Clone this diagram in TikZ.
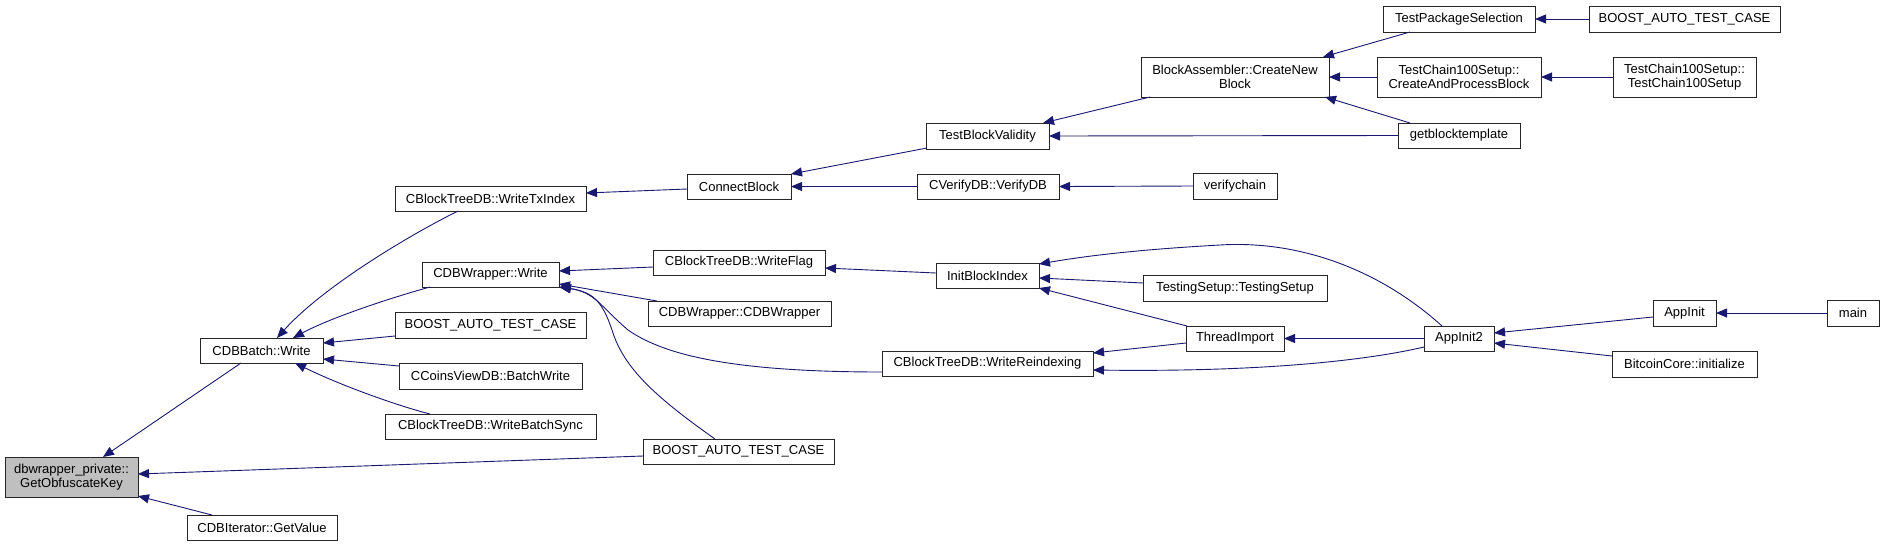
\documentclass[tikz,border=0pt]{standalone}
\usepackage{fontspec}
\setmainfont{Liberation Sans}
\usetikzlibrary{arrows.meta,calc}
\definecolor{edgeblue}{RGB}{25,25,112}
\definecolor{focusgray}{RGB}{191,191,191}
\begin{document}
\begin{tikzpicture}[x=1pt,y=-1pt,
  box/.style={draw=black!85, line width=1pt, fill=white, inner sep=0pt, outer sep=0pt,
    align=center, font=\fontsize{13}{14.5}\selectfont},
  focus/.style={box, fill=focusgray},
  e/.style={draw=edgeblue, line width=0.9pt, -{Triangle[length=11pt,width=9pt]}}]
\fill[white] (0,0) rectangle (1884,547);
\useasboundingbox (0,0) rectangle (1884,547);
% nodes
\node[focus, minimum width=133pt, minimum height=40pt] (gok) at (71.5,477) {dbwrapper\_private::\\GetObfuscateKey};
\node[box, minimum width=123pt, minimum height=25pt] (batch) at (261.5,350.5) {CDBBatch::Write};
\node[box, minimum width=150pt, minimum height=25pt] (getval) at (262,527.5) {CDBIterator::GetValue};
\node[box, minimum width=191pt, minimum height=25pt] (txidx) at (490.5,198.5) {CBlockTreeDB::WriteTxIndex};
\node[box, minimum width=137pt, minimum height=25pt] (dbw) at (490.5,274.5) {CDBWrapper::Write};
\node[box, minimum width=191pt, minimum height=26pt] (bat1) at (490.5,325) {BOOST\_AUTO\_TEST\_CASE};
\node[box, minimum width=183pt, minimum height=26pt] (cvbw) at (490.5,376) {CCoinsViewDB::BatchWrite};
\node[box, minimum width=211pt, minimum height=25pt] (wbs) at (490.5,426.5) {CBlockTreeDB::WriteBatchSync};
\node[box, minimum width=104pt, minimum height=25pt] (cblk) at (739,186.5) {ConnectBlock};
\node[box, minimum width=172pt, minimum height=25pt] (wflag) at (739,262.5) {CBlockTreeDB::WriteFlag};
\node[box, minimum width=183pt, minimum height=25pt] (cdbw) at (739.5,313.5) {CDBWrapper::CDBWrapper};
\node[box, minimum width=211pt, minimum height=25pt] (wreidx) at (987.5,363.5) {CBlockTreeDB::WriteReindexing};
\node[box, minimum width=191pt, minimum height=25pt] (bat2) at (738.5,451.5) {BOOST\_AUTO\_TEST\_CASE};
\node[box, minimum width=123pt, minimum height=26pt] (tbv) at (987.5,136) {TestBlockValidity};
\node[box, minimum width=142pt, minimum height=25pt] (vdb) at (988,186.5) {CVerifyDB::VerifyDB};
\node[box, minimum width=103pt, minimum height=25pt] (ibi) at (987.5,275.5) {InitBlockIndex};
\node[box, minimum width=188pt, minimum height=40pt] (cnb) at (1235,77) {BlockAssembler::CreateNew\\Block};
\node[box, minimum width=152pt, minimum height=26pt] (tps) at (1459,19) {TestPackageSelection};
\node[box, minimum width=164pt, minimum height=40pt] (capb) at (1459,77) {TestChain100Setup::\\CreateAndProcessBlock};
\node[box, minimum width=122pt, minimum height=25pt] (gbt) at (1459,135.5) {getblocktemplate};
\node[box, minimum width=84pt, minimum height=26pt] (vchain) at (1235,186) {verifychain};
\node[box, minimum width=184pt, minimum height=26pt] (tsts) at (1235,288) {TestingSetup::TestingSetup};
\node[box, minimum width=98pt, minimum height=25pt] (timp) at (1235,338.5) {ThreadImport};
\node[box, minimum width=70pt, minimum height=25pt] (ai2) at (1459,338.5) {AppInit2};
\node[box, minimum width=191pt, minimum height=26pt] (bat3) at (1684.5,19) {BOOST\_AUTO\_TEST\_CASE};
\node[box, minimum width=143pt, minimum height=40pt] (tc100) at (1684.5,77) {TestChain100Setup::\\TestChain100Setup};
\node[box, minimum width=63pt, minimum height=26pt] (appinit) at (1684.5,313) {AppInit};
\node[box, minimum width=52pt, minimum height=26pt] (mainf) at (1853,313) {main};
\node[box, minimum width=145pt, minimum height=26pt] (bci) at (1684.5,364) {BitcoinCore::initialize};
% edges (caller -> callee)
\draw[e] ($(batch.south)+(-20.5,0)$) -- ($(gok.north)+(31.5,0)$);
\draw[e] ($(bat2.west)+(0,4.5)$) -- ($(gok.east)+(0,-3)$);
\draw[e] ($(getval.north)+(-50,0)$) -- ($(gok.east)+(0,19)$);
\draw[e] ($(txidx.south)+(-32.5,0)$) .. controls (400,240) and (320,290) .. ($(batch.north)+(15.5,0)$);
\draw[e] ($(dbw.south)+(-60.5,0)$) .. controls (390,298) and (330,318) .. ($(batch.north)+(31.5,0)$);
\draw[e] ($(bat1.west)+(0,11)$) -- ($(batch.east)+(0,-7.5)$);
\draw[e] ($(cvbw.west)+(0,-10)$) -- ($(batch.east)+(0,8.5)$);
\draw[e] ($(wbs.north)+(-60.5,0)$) .. controls (395,405) and (340,385) .. ($(batch.south)+(33.5,0)$);
\draw[e] ($(cblk.west)+(0,2.5)$) -- ($(txidx.east)+(0,-5.5)$);
\draw[e] ($(tbv.south west)+(1,-1)$) -- (cblk.north east);
\draw[e] (vdb.west) -- (cblk.east);
\draw[e] ($(cnb.south west)+(9,0)$) -- ($(tbv.north)+(55.5,0)$);
\draw[e] (gbt.west) -- (tbv.east);
\draw[e] ($(tps.south)+(-49,0)$) -- ($(cnb.north)+(88,0)$);
\draw[e] (capb.west) -- (cnb.east);
\draw[e] ($(gbt.north)+(-49,0)$) -- ($(cnb.south)+(90,0)$);
\draw[e] (bat3.west) -- (tps.east);
\draw[e] (tc100.west) -- (capb.east);
\draw[e] (vchain.west) -- (vdb.east);
\draw[e] ($(wflag.west)+(0,4.5)$) -- ($(dbw.east)+(0,-3.5)$);
\draw[e] ($(cdbw.north)+(-82.5,0)$) -- ($(dbw.east)+(0,9.5)$);
\draw[e] ($(wreidx.west)+(0,8.5)$) .. controls (720,372) and (660,352) .. (628,330) .. controls (600,306) and (595,292) .. (dbw.south east);
\draw[e] ($(bat2.north)+(-23.5,0)$) .. controls (660,400) and (624,370) .. (612,330) .. controls (602,300) and (592,292) .. ($(dbw.south east)+(1,0)$);
\draw[e] ($(ibi.west)+(0,-2.5)$) -- ($(wflag.east)+(0,5.5)$);
\draw[e] ($(ai2.north)+(-17,0)$) .. controls (1380,270) and (1300,240) .. (1220,245) .. controls (1130,250) and (1080,257) .. ($(ibi.east)+(0,-11.5)$);
\draw[e] ($(tsts.west)+(0,-5)$) -- ($(ibi.east)+(0,2.5)$);
\draw[e] ($(timp.north west)+(1,0)$) -- (ibi.south east);
\draw[e] ($(timp.west)+(0,4.5)$) -- ($(wreidx.east)+(0,-10.5)$);
\draw[e] ($(ai2.west)+(0,8.5)$) .. controls (1360,362) and (1250,372) .. ($(wreidx.east)+(0,6.5)$);
\draw[e] (ai2.west) -- (timp.east);
\draw[e] ($(appinit.west)+(0,4)$) -- ($(ai2.east)+(0,-5.5)$);
\draw[e] ($(bci.west)+(0,-8)$) -- ($(ai2.east)+(0,4.5)$);
\draw[e] (mainf.west) -- (appinit.east);
\end{tikzpicture}
\end{document}
